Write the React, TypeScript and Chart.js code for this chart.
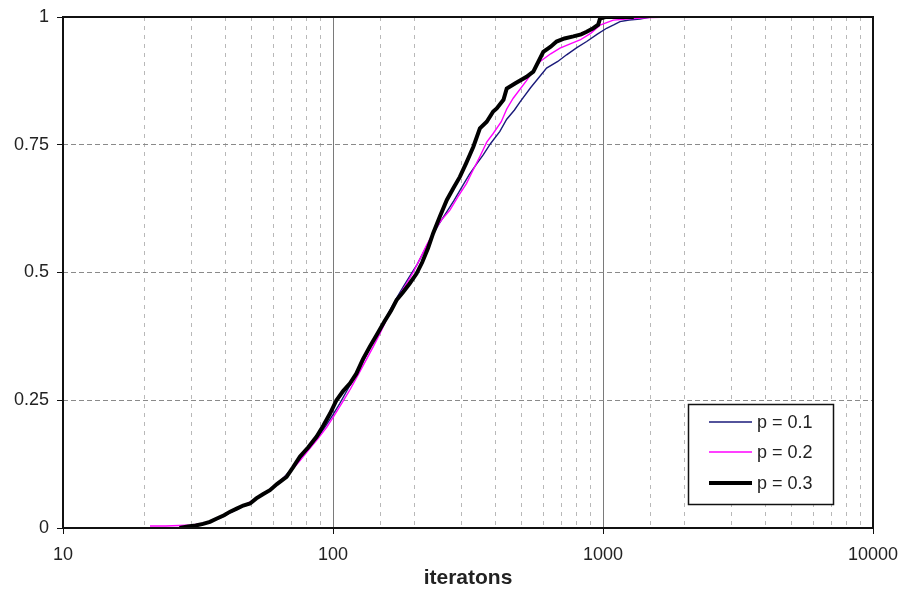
import { useEffect, useRef } from 'react';
import { Chart, registerables } from 'chart.js';

Chart.register(...registerables);

// Empirical cumulative share of runs finished after a given number of iterations
const seriesLabels = ['p = 0.1', 'p = 0.2', 'p = 0.3'];
const seriesColors = ['#1a1a7a', '#ff00ff', '#000000'];
const seriesWidths = [1.4, 1.4, 4];

const runsP01: [number, number][] = [
  [29, 0], [31, 0.004], [33, 0.008], [35, 0.012], [37, 0.017], [39, 0.022], [41, 0.028],
  [44, 0.036], [47, 0.044], [50, 0.052], [53, 0.06], [57, 0.071], [61, 0.083], [66, 0.1],
  [71, 0.118], [76, 0.136], [82, 0.157], [88, 0.178], [94, 0.2], [100, 0.222], [106, 0.244],
  [113, 0.27], [121, 0.297], [129, 0.325], [137, 0.352], [145, 0.376], [153, 0.399],
  [162, 0.425], [172, 0.45], [182, 0.472], [193, 0.494], [205, 0.516], [218, 0.543],
  [232, 0.57], [247, 0.595], [262, 0.616], [280, 0.64], [300, 0.667], [320, 0.692],
  [340, 0.712], [360, 0.73], [383, 0.752], [415, 0.776], [440, 0.8], [470, 0.818],
  [493, 0.834], [540, 0.862], [580, 0.882], [618, 0.9], [680, 0.913], [733, 0.926],
  [800, 0.94], [870, 0.952], [950, 0.966], [1031, 0.978], [1100, 0.985], [1156, 0.991],
  [1250, 0.994], [1370, 0.996], [1500, 1],
];

const runsP02: [number, number][] = [
  [21, 0.004], [24, 0.004], [27, 0.005], [30, 0.006], [32, 0.008], [34, 0.011], [36, 0.015],
  [38, 0.02], [40, 0.026], [43, 0.034], [46, 0.042], [49, 0.05], [52, 0.058], [56, 0.068],
  [60, 0.08], [65, 0.096], [70, 0.112], [75, 0.13], [81, 0.152], [88, 0.175], [95, 0.198],
  [101, 0.22], [108, 0.245], [116, 0.272], [124, 0.3], [133, 0.33], [141, 0.355],
  [149, 0.38], [158, 0.408], [168, 0.435], [178, 0.459], [187, 0.478], [198, 0.5],
  [210, 0.527], [222, 0.553], [235, 0.577], [250, 0.6], [271, 0.622], [290, 0.648],
  [312, 0.674], [330, 0.7], [350, 0.727], [371, 0.755], [392, 0.772], [420, 0.795],
  [440, 0.82], [465, 0.841], [520, 0.875], [585, 0.913], [640, 0.928], [693, 0.939],
  [760, 0.948], [822, 0.955], [900, 0.968], [975, 0.984], [1092, 0.994], [1290, 0.997],
  [1500, 0.999], [1800, 1],
];

const runsP03: [number, number][] = [
  [27, 0], [29, 0.003], [31, 0.005], [33, 0.008], [35, 0.012], [37, 0.018], [39.5, 0.025],
  [41.6, 0.032], [44, 0.038], [46.5, 0.044], [49.3, 0.048], [52, 0.058], [55, 0.066],
  [58.4, 0.074], [62, 0.086], [67.3, 0.1], [71, 0.118], [75.5, 0.14], [81, 0.158],
  [87, 0.179], [92, 0.2], [97.5, 0.224], [103, 0.25], [109, 0.268], [115.6, 0.283],
  [122, 0.302], [129, 0.33], [137, 0.355], [146, 0.38], [155, 0.404], [164, 0.425],
  [172, 0.446], [182, 0.462], [192, 0.478], [204, 0.498], [214, 0.52], [225, 0.548],
  [235, 0.577], [249, 0.61], [264, 0.642], [279, 0.665], [295, 0.687], [312, 0.715],
  [331, 0.746], [350, 0.782], [371, 0.795], [392, 0.815], [404, 0.821], [428, 0.838],
  [440, 0.86], [472, 0.87], [521, 0.883], [552, 0.893], [601, 0.932], [640, 0.942],
  [673, 0.952], [720, 0.958], [777, 0.962], [830, 0.966], [870, 0.971], [920, 0.978],
  [960, 0.985], [975, 0.997], [1020, 1], [1100, 1], [1300, 1],
];

const seriesData = [runsP01, runsP02, runsP03];

const xMin = 10;
const xMax = 10000;
const xLabelValues = [10, 100, 1000, 10000];
const yStep = 0.25;
const xTitle = 'iteratons';

const FONT = '"Liberation Sans", Arial, sans-serif';
const TEXT = '#222222';

// black frame round the plot area
const plotFrame = {
  id: 'plotFrame',
  afterDatasetsDraw(chart: any) {
    const { ctx, chartArea: a } = chart;
    ctx.save();
    ctx.strokeStyle = '#111111';
    ctx.lineWidth = 2;
    ctx.strokeRect(a.left, a.top, a.right - a.left, a.bottom - a.top);
    ctx.restore();
  },
};

// boxed legend in the lower right of the plot area
const legendBox = {
  id: 'legendBox',
  afterDatasetsDraw(chart: any) {
    const { ctx, chartArea: a } = chart;
    const left = Math.round(a.right - 185);
    const top = Math.round(a.bottom - 124);
    const w = 145;
    const h = 100;
    const rows = [18, 48, 79];
    ctx.save();
    ctx.fillStyle = '#ffffff';
    ctx.fillRect(left, top, w, h);
    ctx.strokeStyle = '#111111';
    ctx.lineWidth = 1.5;
    ctx.strokeRect(left + 0.5, top + 0.5, w, h);
    ctx.font = `18px ${FONT}`;
    ctx.textBaseline = 'middle';
    ctx.textAlign = 'left';
    chart.data.datasets.forEach((ds: any, i: number) => {
      const y = top + rows[i];
      ctx.strokeStyle = ds.borderColor;
      ctx.lineWidth = ds.borderWidth;
      ctx.beginPath();
      ctx.moveTo(left + 21, y);
      ctx.lineTo(left + 64, y);
      ctx.stroke();
      ctx.fillStyle = TEXT;
      ctx.fillText(ds.label, left + 69, y + 1);
    });
    ctx.restore();
  },
};

const isDecade = (v: number) => xLabelValues.some((d) => Math.abs(d - v) < 1e-6);

export default function App() {
  const canvasRef = useRef<HTMLCanvasElement | null>(null);

  useEffect(() => {
    const canvas = canvasRef.current;
    if (!canvas) return;
    const chart = new Chart(canvas, {
      type: 'line',
      data: {
        datasets: seriesLabels.map((label, i) => ({
          label,
          data: seriesData[i].map(([x, y]) => ({ x, y })),
          borderColor: seriesColors[i],
          backgroundColor: seriesColors[i],
          borderWidth: seriesWidths[i],
          pointRadius: 0,
          tension: 0,
          fill: false,
          order: 2 - i,
        })),
      },
      options: {
        responsive: false,
        animation: false,
        events: [],
        layout: { padding: { top: 17, right: 31, left: 0, bottom: 0 } },
        plugins: {
          legend: { display: false },
          tooltip: { enabled: false },
        },
        scales: {
          x: {
            type: 'logarithmic',
            min: xMin,
            max: xMax,
            afterFit: (scale: any) => {
              scale.height = 64;
              scale.paddingLeft = 0;
              scale.paddingRight = 0;
            },
            border: {
              display: false,
              dash: (ctx: any) => (ctx.tick && isDecade(ctx.tick.value) ? [] : [4, 5]),
            },
            grid: {
              color: (ctx: any) => (ctx.tick && isDecade(ctx.tick.value) ? '#7a7a7a' : '#b8b8b8'),
              lineWidth: 1,
              tickLength: 6,
              tickBorderDash: [],
              tickColor: (ctx: any) => (ctx.tick && isDecade(ctx.tick.value) ? '#111111' : 'rgba(0,0,0,0)'),
            },
            ticks: {
              autoSkip: false,
              maxRotation: 0,
              padding: 10,
              color: TEXT,
              font: { family: FONT, size: 18 },
              callback: (value: any) => (isDecade(Number(value)) ? String(value) : ''),
            },
            title: {
              display: true,
              text: xTitle,
              color: TEXT,
              font: { family: FONT, size: 21, weight: 'bold' },
              padding: { top: 0, bottom: 1 },
            },
          },
          y: {
            type: 'linear',
            min: 0,
            max: 1,
            afterFit: (scale: any) => {
              scale.width = 63;
              scale.paddingTop = 0;
              scale.paddingBottom = 0;
            },
            border: { display: false, dash: [5, 3] },
            grid: {
              color: '#8a8a8a',
              lineWidth: 1,
              tickLength: 6,
              tickBorderDash: [],
              tickColor: '#111111',
            },
            ticks: {
              stepSize: yStep,
              padding: 8,
              color: TEXT,
              font: { family: FONT, size: 18 },
              callback: (value: any) => String(value),
            },
          },
        },
      },
      plugins: [plotFrame, legendBox],
    });
    return () => chart.destroy();
  }, []);

  return (
    <div style={{ position: 'fixed', left: 0, top: 0, width: 904, height: 592, background: '#ffffff' }}>
      <canvas ref={canvasRef} width={904} height={592} style={{ width: 904, height: 592, display: 'block' }} />
    </div>
  );
}
